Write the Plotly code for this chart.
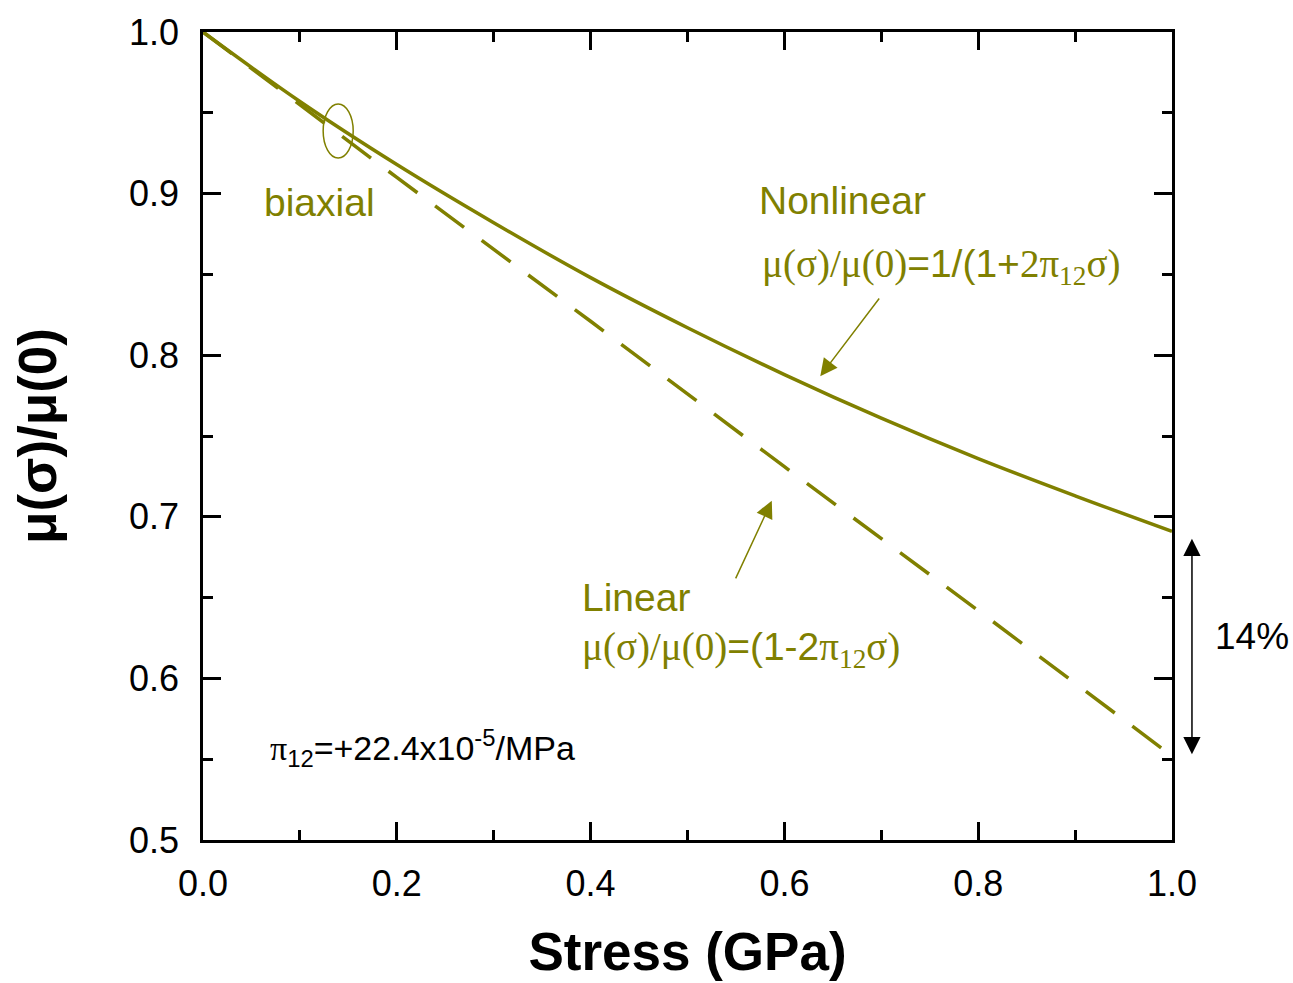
import plotly.graph_objects as go

# Stress axis (GPa) and normalised mobility values
stress = [0.0, 0.1, 0.2, 0.3, 0.4, 0.5, 0.6, 0.7, 0.8, 0.9, 1.0]
mobility_nonlinear = [1.0, 0.957, 0.918, 0.882, 0.848, 0.817, 0.788, 0.761, 0.736, 0.713, 0.691]
stress_lin = [0.0, 0.2, 0.4, 0.6, 0.8, 1.0]
mobility_linear = [1.0, 0.910, 0.821, 0.731, 0.642, 0.552]

x_ticks = [0.0, 0.2, 0.4, 0.6, 0.8, 1.0]
y_ticks = [0.5, 0.6, 0.7, 0.8, 0.9, 1.0]

OLIVE = "#808000"
SANS = "Liberation Sans, Arial, sans-serif"
SERIF = "Liberation Serif, Times New Roman, serif"


def serif(s):
    return f'<span style="font-family:{SERIF}">{s}</span>'


fig = go.Figure()

fig.add_trace(go.Scatter(
    x=stress, y=mobility_nonlinear, mode="lines", line_shape="spline",
    line=dict(color=OLIVE, width=3.5), showlegend=False, hoverinfo="skip"))

fig.add_trace(go.Scatter(
    x=stress_lin, y=mobility_linear, mode="lines",
    line=dict(color=OLIVE, width=3.5, dash="36px,22px"), showlegend=False, hoverinfo="skip"))

axis_common = dict(
    showgrid=False, zeroline=False, showline=True, linecolor="black", linewidth=2.5,
    mirror="ticks", ticks="inside", ticklen=18, tickwidth=2.5, tickcolor="black",
    tickfont=dict(family=SANS, size=36, color="black"),
)

fig.update_xaxes(
    range=[0, 1.0], tickvals=x_ticks, ticktext=[f"{v:.1f}" for v in x_ticks],
    minor=dict(dtick=0.1, ticks="inside", ticklen=10, tickwidth=2.5, tickcolor="black"),
    title=dict(text="<b>Stress (GPa)</b>", font=dict(family=SANS, size=53, color="black"), standoff=30),
    ticklabelstandoff=10, **axis_common)

fig.update_yaxes(
    range=[0.5, 1.0], tickvals=y_ticks, ticktext=[f"{v:.1f}" for v in y_ticks],
    minor=dict(dtick=0.05, ticks="inside", ticklen=10, tickwidth=2.5, tickcolor="black"),
    title=dict(text="<b>μ(σ)/μ(0)</b>", font=dict(family=SANS, size=53, color="black"), standoff=56),
    ticklabelstandoff=14, **axis_common)

ann_font = dict(family=SANS, size=39, color=OLIVE)

texts = [
    (0.061, 0.8945, "biaxial", ann_font),
    (0.572, 0.8957, "Nonlinear", ann_font),
    (0.575, 0.8546,
     serif("μ(σ)/μ(0)") + "=1/(1+" + serif("2π<sub>12</sub>σ)"), ann_font),
    (0.389, 0.650, "Linear", ann_font),
    (0.389, 0.618,
     serif("μ(σ)/μ(0)") + "=(1-2" + serif("π<sub>12</sub>σ)"), ann_font),
    (0.067, 0.557,
     serif("π") + "<sub>12</sub>=+22.4x10<sup>-5</sup>/MPa", dict(family=SANS, size=34, color="black")),
]
for x, y, t, f in texts:
    fig.add_annotation(x=x, y=y, xref="x", yref="y", text=t, showarrow=False,
                       xanchor="left", yanchor="middle", font=f)

# Label beside the right axis
fig.add_annotation(x=1.042, y=0.626, xref="paper", yref="y", text="14%", showarrow=False,
                   xanchor="left", yanchor="middle", font=dict(family=SANS, size=37, color="black"))

# Pointer arrows to each curve
fig.add_annotation(x=0.637, y=0.787, ax=0.699, ay=0.836, xref="x", yref="y", axref="x", ayref="y",
                   text="", showarrow=True, arrowhead=2, arrowsize=2.3, arrowwidth=1.5, arrowcolor=OLIVE)
fig.add_annotation(x=0.587, y=0.710, ax=0.549, ay=0.661, xref="x", yref="y", axref="x", ayref="y",
                   text="", showarrow=True, arrowhead=2, arrowsize=2.3, arrowwidth=1.5, arrowcolor=OLIVE)

# Double-headed arrow marking the gap between the two curves at 1 GPa
fig.add_annotation(x=1.0206, y=0.553, ax=0, ay=-217, xref="paper", yref="y",
                   text="", showarrow=True, arrowhead=2, startarrowhead=2, arrowside="end+start",
                   arrowsize=2.3, startarrowsize=2.3, arrowwidth=1.5, arrowcolor="black")

# Ellipse around the initial slope region
fig.add_shape(type="circle", xref="x", yref="y", x0=0.124, x1=0.155, y0=0.922, y1=0.9555,
              line=dict(color=OLIVE, width=1.5))

fig.update_layout(
    width=1293, height=983, margin=dict(l=203, r=121, t=28, b=140),
    plot_bgcolor="white", paper_bgcolor="white",
)

fig.write_html("out.html")
